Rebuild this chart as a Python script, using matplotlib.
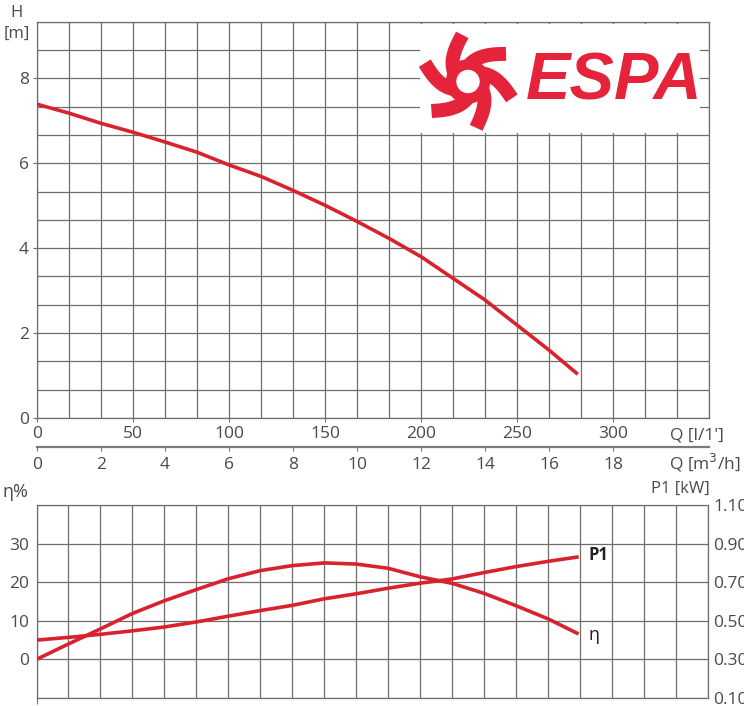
import numpy as np
import matplotlib
matplotlib.use("Agg")
import matplotlib.pyplot as plt
from matplotlib.patches import Rectangle, Polygon, Circle

# ---------------- data ----------------
q_m3h = [0, 1, 2, 3, 4, 5, 6, 7, 8, 9, 10, 11, 12, 13, 14, 15, 16, 16.9]
head_m = [7.39, 7.18, 6.94, 6.73, 6.50, 6.26, 5.96, 5.69, 5.36, 5.01, 4.63,
          4.23, 3.80, 3.29, 2.78, 2.19, 1.60, 1.03]
eta_pct = [0, 4.0, 7.9, 11.9, 15.2, 18.1, 20.9, 23.0, 24.3, 25.0, 24.7,
           23.6, 21.4, 19.7, 17.1, 13.9, 10.5, 6.8]
p1_kw = [0.40, 0.414, 0.43, 0.448, 0.468, 0.494, 0.524, 0.553, 0.58, 0.614,
         0.64, 0.669, 0.695, 0.717, 0.75, 0.781, 0.808, 0.83]

lmin_ticks = [0, 50, 100, 150, 200, 250, 300]
m3h_ticks = [0, 2, 4, 6, 8, 10, 12, 14, 16, 18]
h_ticks = [0, 2, 4, 6, 8]
eta_ticks = [0, 10, 20, 30]
p1_ticks = [0.10, 0.30, 0.50, 0.70, 0.90, 1.10]

# ---------------- style ----------------
plt.rcParams['font.family'] = ['Open Sans', 'DejaVu Sans']
RED = '#d8232f'
GRID = '#6e6e6e'
TXT = '#4a4a4a'
W, H = 744, 706
fig = plt.figure(figsize=(W / 100, H / 100), dpi=100)


def fx(px):
    return px / W


def fy(py):
    return 1 - py / H


# ---------------- upper (H) axes ----------------
ax = fig.add_axes([fx(37), fy(418), fx(709) - fx(37), fy(21.7) - fy(418)])
ax.set_xlim(0, 21)
ax.set_ylim(0, 28 / 3)
ax.set_xticks([v * 0.06 for v in lmin_ticks])
ax.set_xticklabels([str(v) for v in lmin_ticks])
ax.set_xticks(np.arange(0, 22, 1), minor=True)
ax.set_yticks(h_ticks)
ax.set_yticklabels([str(v) for v in h_ticks])
ax.set_yticks(np.arange(0, 9.4, 2 / 3), minor=True)
ax.grid(which='both', color=GRID, lw=0.9)
ax.tick_params(which='major', length=3, color=GRID, labelsize=12.5,
               labelcolor=TXT, pad=3)
ax.tick_params(which='minor', length=0)
for s in ax.spines.values():
    s.set_color(GRID)
    s.set_linewidth(0.9)
ax.plot(q_m3h, head_m, color=RED, lw=2.6, solid_capstyle='butt',
        solid_joinstyle='round', zorder=5)

# secondary m3/h axis
sec = ax.secondary_xaxis(-29 / 396.3)
sec.set_xticks(m3h_ticks)
sec.set_xticklabels([str(v) for v in m3h_ticks])
sec.tick_params(length=3, color='#777777', labelsize=12.5, labelcolor=TXT, pad=4)
sec.spines['bottom'].set_color('#7a7a7a')
sec.spines['bottom'].set_linewidth(1.6)

# logo box
ax.add_patch(Rectangle(((420 - 37) / 32, (418 - 133) / 42.5),
                       (700 - 420) / 32, (133 - 24) / 42.5,
                       facecolor='white', edgecolor='none', zorder=3))

fig.text(fx(17), fy(13), 'H', ha='center', va='center', fontsize=12, color=TXT)
fig.text(fx(17), fy(34), '[m]', ha='center', va='center', fontsize=12, color=TXT)
fig.text(fx(670), fy(435), "Q [l/1']", ha='left', va='center', fontsize=12.5, color=TXT)
fig.text(fx(669), fy(463), "Q [m$^3$/h]", ha='left', va='center', fontsize=12.5, color=TXT)

# ---------------- logo ----------------
LOGO = '#e5243b'
lax = fig.add_axes([fx(415), fy(135), fx(705) - fx(415), fy(22) - fy(135)])
lax.set_xlim(415, 705)
lax.set_ylim(135, 22)
lax.axis('off')
cx, cy = 468, 81.5
lax.add_patch(Circle((cx, cy), 21.5, color=LOGO, zorder=4))
tips = [97, 36, -21, -80, -141, 157]
for tip in tips:
    t = np.linspace(0, 1, 40)
    r = 16 + 31 * t
    ph = np.deg2rad(tip + 26 * (1 - t) + 25 * (1 - t) ** 2)
    xs = cx + r * np.cos(ph)
    ys = cy - r * np.sin(ph)
    dx = np.gradient(xs)
    dy = np.gradient(ys)
    nrm = np.hypot(dx, dy)
    nx, ny = -dy / nrm, dx / nrm
    w = 7.0
    left = np.column_stack([xs + nx * w, ys + ny * w])
    right = np.column_stack([xs - nx * w, ys - ny * w])
    lax.add_patch(Polygon(np.vstack([left, right[::-1]]), closed=True,
                          facecolor=LOGO, edgecolor='none', zorder=4))
lax.add_patch(Circle((cx, cy), 11, color='white', zorder=5))
lax.text(526, 82, 'ESPA', fontsize=48, fontweight='bold', style='italic',
         family='Liberation Sans', color=LOGO, ha='left', va='center')

# ---------------- lower (eta / P1) axes ----------------
bx = fig.add_axes([fx(36.5), fy(698), fx(708) - fx(36.5), fy(505) - fy(698)])
bx.set_xlim(0, 21)
bx.set_ylim(-10, 40)
bx.set_xticks([0])
bx.set_xticklabels([''])
bx.set_xticks(np.arange(0, 22, 1), minor=True)
bx.set_yticks(eta_ticks)
bx.set_yticklabels([str(v) for v in eta_ticks])
bx.set_yticks(np.arange(-10, 41, 10), minor=True)
bx.grid(which='both', color=GRID, lw=0.9)
bx.tick_params(axis='y', which='major', length=0, labelsize=12.5,
               labelcolor=TXT, pad=5)
bx.tick_params(axis='x', which='major', length=4, color=GRID)
bx.tick_params(which='minor', length=0)
for s in bx.spines.values():
    s.set_color(GRID)
    s.set_linewidth(0.9)
bx.plot(q_m3h, eta_pct, color=RED, lw=2.6, solid_joinstyle='round', zorder=5)

tx = bx.twinx()
tx.set_ylim(0.1, 1.1)
tx.set_yticks(p1_ticks)
tx.set_yticklabels(['%.2f' % v for v in p1_ticks])
tx.tick_params(length=0, labelsize=12.5, labelcolor=TXT, pad=4)
for s in tx.spines.values():
    s.set_visible(False)
tx.plot(q_m3h, p1_kw, color=RED, lw=2.6, solid_joinstyle='round', zorder=5)

bx.text(q_m3h[-1] + 0.35, 27, 'P1', fontsize=12, fontweight='bold',
        color='#222222', ha='left', va='center')
bx.text(q_m3h[-1] + 0.35, 6.2, 'η', fontsize=13, color='#222222',
        ha='left', va='center')

fig.text(fx(3), fy(492), 'η%', ha='left', va='center', fontsize=13, color=TXT)
fig.text(fx(651), fy(489), 'P1 [kW]', ha='left', va='center', fontsize=12, color=TXT)

fig.savefig('out.png', dpi=100)
